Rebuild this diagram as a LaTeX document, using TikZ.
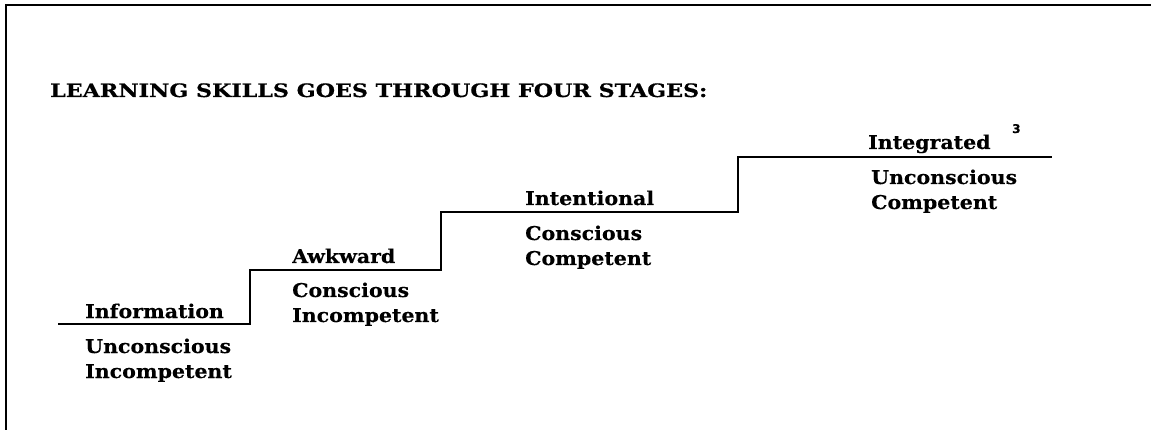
\documentclass[tikz,border=0pt]{standalone}
\usepackage{fontspec}
\setmainfont{DejaVu Serif}
\newfontfamily\slab[FakeStretch=1.08,FakeBold=0.25]{DejaVu Serif}
\newfontfamily\slabtitle[FakeStretch=1.2,FakeBold=0.6]{DejaVu Serif}
\newfontfamily\notefont[FakeBold=0.5]{DejaVu Sans}
\begin{document}
\begin{tikzpicture}[x=1pt,y=-1pt,
  frame/.style={line width=1.2pt,black},
  stair/.style={line width=2pt,black,line join=miter},
  lbl/.style={anchor=base west,inner sep=0pt,font=\slab\bfseries\fontsize{19}{22}\selectfont},
  title/.style={anchor=base west,inner sep=0pt,font=\slabtitle\bfseries\fontsize{18.5}{22}\selectfont},
  note/.style={anchor=base west,inner sep=0pt,font=\notefont\bfseries\fontsize{12}{14}\selectfont}]
\useasboundingbox (0,0) rectangle (1151,430);
\coordinate (tl) at (6,5);
\coordinate (tr) at (1151,5);
\coordinate (bl) at (6,430);
\draw[frame] (tr) -- (tl) -- (bl);
\node[title] (t) at (50,97) {LEARNING SKILLS GOES THROUGH FOUR STAGES:};
\coordinate (p0) at (58,324);
\coordinate (p1) at (250,324);
\coordinate (p2) at (250,270);
\coordinate (p3) at (441,270);
\coordinate (p4) at (441,212);
\coordinate (p5) at (738,212);
\coordinate (p6) at (738,157);
\coordinate (p7) at (1052,157);
\draw[stair] (p0) -- (p1) -- (p2) -- (p3) -- (p4) -- (p5) -- (p6) -- (p7);
% stage 1
\node[lbl] (s1) at (85,318) {Information};
\node[lbl] (s1a) at (85,353) {Unconscious};
\node[lbl] (s1b) at (85,378) {Incompetent};
% stage 2
\node[lbl] (s2) at (292,263) {Awkward};
\node[lbl] (s2a) at (292,297) {Conscious};
\node[lbl] (s2b) at (292,322) {Incompetent};
% stage 3
\node[lbl] (s3) at (525,205) {Intentional};
\node[lbl] (s3a) at (525,240) {Conscious};
\node[lbl] (s3b) at (525,265) {Competent};
% stage 4
\node[lbl] (s4) at (868,149) {Integrated};
\node[lbl] (s4a) at (871,184) {Unconscious};
\node[lbl] (s4b) at (871,209) {Competent};
\node[note] (n3) at (1012,133) {3};
\end{tikzpicture}
\end{document}
